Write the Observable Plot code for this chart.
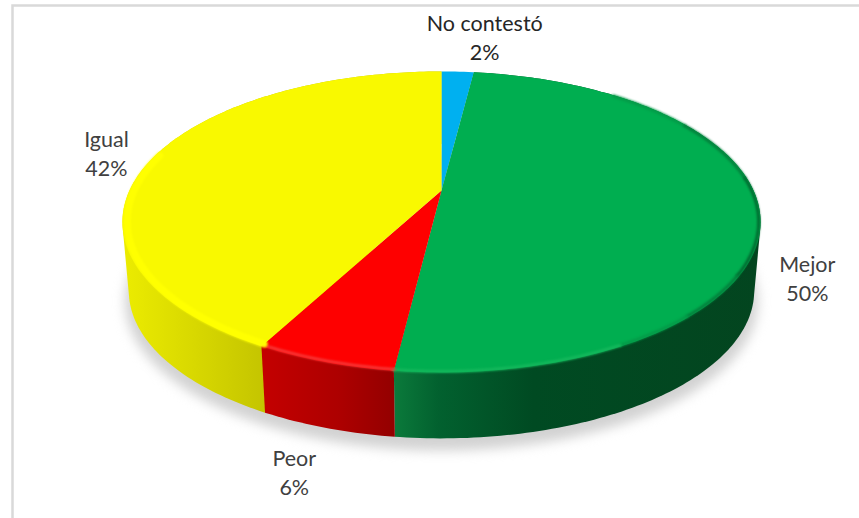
<!DOCTYPE html>
<html><head><meta charset="utf-8">
<script src="https://cdn.jsdelivr.net/npm/d3@7"></script>
<script src="https://cdn.jsdelivr.net/npm/@observablehq/plot@0.6"></script>
<style>html,body{margin:0;padding:0;background:#fff;overflow:hidden}svg{display:block}</style>
</head><body><div id="chart"></div>
<script>
const names = ["No contestó","Mejor","Peor","Igual"];
const values = [2,49.93,5.87,42.2];
const faceColors = ["#00b0f0","#00ae50","#fe0000","#f9f900"];
const textColors = ["#262626","#404040","#404040","#404040"];
const sideStops = [
  [[0,"#007fb0"],[1,"#007fb0"]],
  [[0,"#0b7a3b"],[0.12,"#02612f"],[0.38,"#004a22"],[1,"#03451f"]],
  [[0,"#c40000"],[0.6,"#ac0000"],[1,"#930000"]],
  [[0,"#ecec00"],[0.45,"#c4c400"],[1,"#c4c400"]]
];
const labelDx = [27,48,-30,-47];
const labelDy = [-35,69,109,-5];
const greenBevel = [[40,60,"#049a48"],[60,85,"#03803c"],[85,122,"#006a30"],[122,138,"#03803c"],[138,152,"#049a48"],[152,187,"#14b85c"]];

// perspective of the tilted disc
const cx = 441, apexY = 190, A = 312, B = 143.9, k = 0.209, depth = 69.6, bottomScale = 0.98;
const rim = (deg, s = 1, d = 0) => {
  const t = deg * Math.PI / 180, X = Math.sin(t), Y = Math.cos(t), w = 1 + k * Y;
  return {x: cx + s * A * X / w, y: apexY + d - s * B * Y / w};
};
const total = d3.sum(values);
let acc = 0;
const slices = names.map((name, i) => {
  const a0 = acc / total * 360; acc += values[i]; const a1 = acc / total * 360;
  return {name, i, a0, a1, value: values[i]};
});
const angles = s => d3.range(s.a0, s.a1, 1).concat(s.a1);

const face = slices.flatMap(s => [
  {name: s.name, x: cx, y: apexY},
  ...angles(s).map(a => ({name: s.name, ...rim(a)}))
]);
const hullOf = s => {
  const pts = [...angles(s).map(a => rim(a)), ...angles(s).map(a => rim(a, bottomScale, depth))];
  return d3.polygonHull(pts.map(p => [p.x, p.y])).map(([x, y]) => ({x, y}));
};
const shadow = d3.range(0, 361, 2).map(a => rim(a, bottomScale * 1.012, depth + 10));
const arc = (from, to, s) => d3.range(from, to, 1).concat(to).map(a => rim(a, s));
const [blue, green, red, yellow] = slices;

const labels = slices.map((s, i) => {
  const p = rim((s.a0 + s.a1) / 2);
  return {text: `${s.name}\n${Math.round(s.value)}%`, x: p.x + labelDx[i], y: p.y + labelDy[i], fill: textColors[i]};
});

const defs = () => {
  const g = d3.create("svg:defs");
  sideStops.forEach((stops, i) => {
    const lg = g.append("linearGradient").attr("id", `side${i}`);
    stops.forEach(([o, c]) => lg.append("stop").attr("offset", o).attr("stop-color", c));
  });
  return g.node();
};

const plot = Plot.plot({
  width: 859, height: 518, margin: 0,
  x: {domain: [0, 859], range: [0, 859], axis: null},
  y: {domain: [0, 518], range: [0, 518], axis: null},
  color: {domain: names, range: faceColors},
  marks: [
    defs,
    Plot.frame({stroke: "#d9d9d9", strokeWidth: 2.5, insetLeft: 12, insetTop: 5, insetRight: -10, insetBottom: -10}),
    Plot.line(shadow, {x: "x", y: "y", fill: "#d2d2d2", stroke: "none", imageFilter: "blur(6px)"}),
    ...[yellow, green, red].map(s => Plot.line(hullOf(s), {x: "x", y: "y", fill: `url(#side${s.i})`, stroke: "none"})),
    Plot.line(face, {x: "x", y: "y", z: "name", fill: "name", stroke: "none"}),
    ...greenBevel.map(([from, to, c]) => Plot.line(arc(from, to, 0.994), {x: "x", y: "y", stroke: c, strokeWidth: 3, imageFilter: "blur(1.2px)"})),
    Plot.line(arc(red.a0, red.a1, 0.992), {x: "x", y: "y", stroke: "#f53c3c", strokeWidth: 2.5, imageFilter: "blur(0.8px)"}),
    Plot.line(arc(yellow.a0, 285, 0.985), {x: "x", y: "y", stroke: "#ffff00", strokeWidth: 7, imageFilter: "blur(1px)"}),
    Plot.text(labels, {x: "x", y: "y", text: "text", fill: "fill", fontSize: 21.5, lineHeight: 1.35, fontFamily: "Lato"})
  ]
});
document.getElementById("chart").append(plot);
</script></body></html>
